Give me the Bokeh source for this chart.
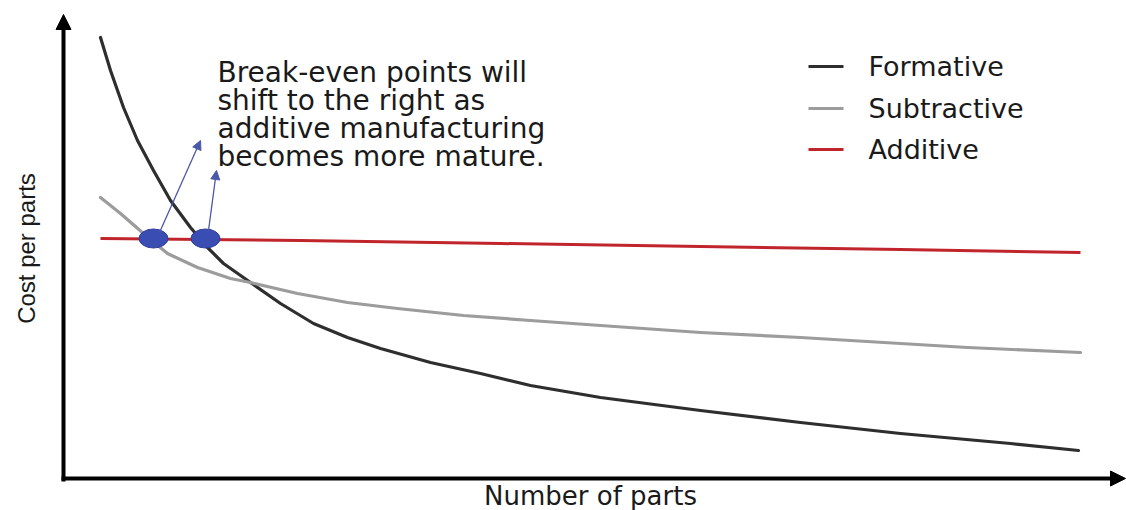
from bokeh.plotting import figure
from bokeh.models import Range1d, Arrow, NormalHead, ColumnDataSource
from bokeh.core.properties import value
from bokeh.embed import file_html
from bokeh.resources import INLINE

# ---- data (arbitrary units) ----
formative_parts = [3.7, 4.7, 6.0, 7.4, 9.0, 10.7, 12.7, 14.4, 16.0, 18.7, 21.7, 25.0, 28.4, 31.7,
                   36.7, 41.7, 46.7, 53.7, 63.7, 73.7, 83.7, 94.7, 101.5]
formative_cost = [44.1, 40.8, 37.1, 33.8, 30.8, 27.8, 25.1, 23.1, 21.5, 19.6, 17.5, 15.5, 14.1, 13.0,
                  11.6, 10.5, 9.3, 8.1, 6.8, 5.6, 4.5, 3.5, 2.8]

subtractive_parts = [3.7, 5.7, 8.0, 10.4, 13.4, 16.7, 18.7, 23.4, 28.4, 33.4, 40.0, 46.7, 53.7,
                     63.7, 73.7, 83.7, 90.4, 101.7]
subtractive_cost = [28.1, 26.5, 24.5, 22.5, 21.1, 20.0, 19.6, 18.5, 17.6, 17.0, 16.3, 15.8, 15.3,
                    14.6, 14.1, 13.5, 13.1, 12.6]

additive_parts = [3.7, 23.7, 43.7, 63.7, 83.7, 101.7]
additive_cost = [24.0, 23.8, 23.5, 23.2, 22.9, 22.6]

breakeven_parts = [9.0, 14.2]
breakeven_cost = [24.0, 24.0]

series_names = ["Formative", "Subtractive", "Additive"]
series_colors = ["#2e2e2e", "#9c9c9c", "#c0252b"]

note_lines = ["Break-even points will", "shift to the right as",
              "additive manufacturing", "becomes more mature."]
x_label = "Number of parts"
y_label = "Cost per parts"

FONT = "DejaVu Sans"

p = figure(width=1126, height=510, x_range=Range1d(-6.3, 106.3), y_range=Range1d(-3.2, 47.8),
           x_axis_type=None, y_axis_type=None, output_backend="svg", toolbar_location=None,
           min_border=0)
p.grid.visible = False
p.outline_line_color = None
p.background_fill_color = "white"

# axes with arrow heads
p.add_layout(Arrow(end=NormalHead(size=15, fill_color="black", line_color="black", line_width=1),
                   x_start=0, y_start=-0.3, x_end=0, y_end=46.4, line_width=4, line_color="black"))
p.add_layout(Arrow(end=NormalHead(size=15, fill_color="black", line_color="black", line_width=1),
                   x_start=-0.2, y_start=0, x_end=106.2, y_end=0, line_width=4, line_color="black"))

# curves
p.line(formative_parts, formative_cost, line_color=series_colors[0], line_width=3.2,
       line_join="round", line_cap="round")
p.line(subtractive_parts, subtractive_cost, line_color=series_colors[1], line_width=3.2,
       line_join="round", line_cap="round")
p.line(additive_parts, additive_cost, line_color=series_colors[2], line_width=3,
       line_join="round")

# annotation arrows from break-even points
arrow_src = ColumnDataSource(dict(x0=[breakeven_parts[0] + 0.6, breakeven_parts[1] + 0.3],
                                  y0=[breakeven_cost[0] + 0.6, breakeven_cost[1] + 0.8],
                                  x1=[13.7, 15.3], y1=[33.8, 30.8]))
p.add_layout(Arrow(end=NormalHead(size=9, fill_color="#4a58a8", line_color="#4a58a8", line_width=1),
                   source=arrow_src, x_start="x0", y_start="y0", x_end="x1", y_end="y1",
                   line_color="#4a58a8", line_width=1.3))

# break-even points
p.ellipse(breakeven_parts, breakeven_cost, width=2.9, height=1.9,
          fill_color="#3a4db3", line_color="#2f3f9a", line_width=1)

# note text
p.text(x=[15.4] * 4, y=[40.6, 37.8, 35.0, 32.2], text=note_lines,
       text_font=value(FONT), text_font_size="28px", text_color="#1a1a1a",
       text_align="left", text_baseline="middle")

# legend (manual)
leg_y = [41.2, 37.0, 32.9]
p.segment(x0=[74.5] * 3, y0=leg_y, x1=[78.0] * 3, y1=leg_y,
          line_color=series_colors, line_width=3)
p.text(x=[80.5] * 3, y=leg_y, text=series_names,
       text_font=value(FONT), text_font_size="27px", text_color="#1a1a1a",
       text_align="left", text_baseline="middle")

# axis titles
p.text(x=[52.7], y=[-1.7], text=[x_label], text_font=value(FONT), text_font_size="26px",
       text_color="#1a1a1a", text_align="center", text_baseline="middle")
p.text(x=[-3.7], y=[23.0], text=[y_label], angle=1.5707963, text_font=value("Liberation Sans"),
       text_font_size="24px", text_color="#1a1a1a", text_align="center", text_baseline="middle")

open("out.html", "w").write(file_html(p, INLINE))
